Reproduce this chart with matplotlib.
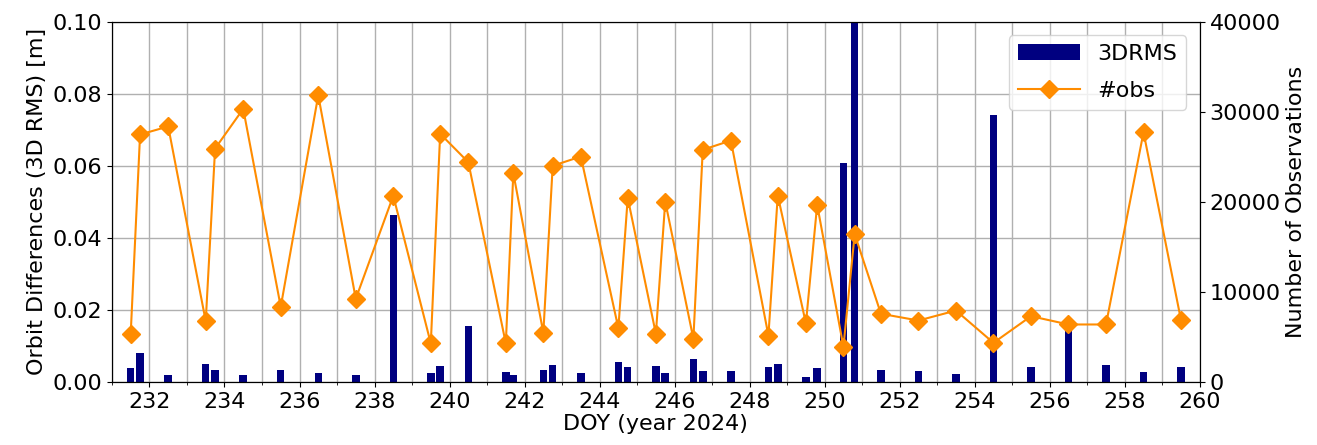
import matplotlib
matplotlib.use('Agg')
import matplotlib.pyplot as plt
from matplotlib.ticker import MultipleLocator

# DOY epochs and values
doy = [231.5, 231.75, 232.5, 233.5, 233.75, 234.5, 235.5, 236.5, 237.5, 238.5,
       239.5, 239.75, 240.5, 241.5, 241.7, 242.5, 242.75, 243.5, 244.5, 244.75,
       245.5, 245.75, 246.5, 246.75, 247.5, 248.5, 248.75, 249.5, 249.8, 250.5,
       250.8, 251.5, 252.5, 253.5, 254.5, 255.5, 256.5, 257.5, 258.5, 259.5]

rms3d = [0.0037, 0.0080, 0.0020, 0.0050, 0.0034, 0.0020, 0.0034, 0.0024, 0.0018, 0.0463,
         0.0024, 0.0044, 0.0154, 0.0028, 0.0020, 0.0034, 0.0046, 0.0024, 0.0054, 0.0040,
         0.0044, 0.0024, 0.0063, 0.0031, 0.0031, 0.0040, 0.0050, 0.0014, 0.0037, 0.0609,
         0.1200, 0.0034, 0.0031, 0.0021, 0.0740, 0.0040, 0.0165, 0.0046, 0.0027, 0.0040]

nobs = [5330, 27480, 28370, 6730, 25920, 30330, 8330, 31840, 9220, 20670,
        4260, 27560, 24400, 4260, 23180, 5440, 24000, 25030, 5960, 20440,
        5330, 20030, 4780, 25780, 26810, 5140, 20700, 6480, 19670, 3890,
        16400, 7560, 6810, 7920, 4330, 7290, 6370, 6370, 27730, 6840]

fs = 16
fig, ax1 = plt.subplots(figsize=(13.17, 4.45), dpi=100)
fig.subplots_adjust(left=0.085, right=0.911, bottom=0.142, top=0.951)

b = ax1.bar(doy, rms3d, width=0.2, color='navy', label='3DRMS')
ax1.set_xlim(231, 260)
ax1.set_ylim(0, 0.1)
ax1.xaxis.set_major_locator(MultipleLocator(2))
ax1.xaxis.set_minor_locator(MultipleLocator(1))
ax1.yaxis.set_major_locator(MultipleLocator(0.02))
ax1.grid(True, which='both', axis='x', color='#b0b0b0', linewidth=1)
ax1.grid(True, which='major', axis='y', color='#b0b0b0', linewidth=1)
ax1.set_axisbelow(True)
ax1.set_xlabel('DOY (year 2024)', fontsize=fs, labelpad=2)
ax1.set_ylabel('Orbit Differences (3D RMS) [m]', fontsize=fs)
ax1.tick_params(labelsize=fs)

ax2 = ax1.twinx()
l, = ax2.plot(doy, nobs, color='darkorange', marker='D', markersize=9, linewidth=1.5, label='#obs')
ax2.set_ylim(0, 40000)
ax2.yaxis.set_major_locator(MultipleLocator(10000))
ax2.set_ylabel('Number of Observations', fontsize=fs)
ax2.tick_params(labelsize=fs)

ax2.legend([b, l], ['3DRMS', '#obs'], loc='upper right', fontsize=fs,
           handlelength=2.8, labelspacing=0.75, borderaxespad=0.6)

fig.savefig('out.png', dpi=100)
